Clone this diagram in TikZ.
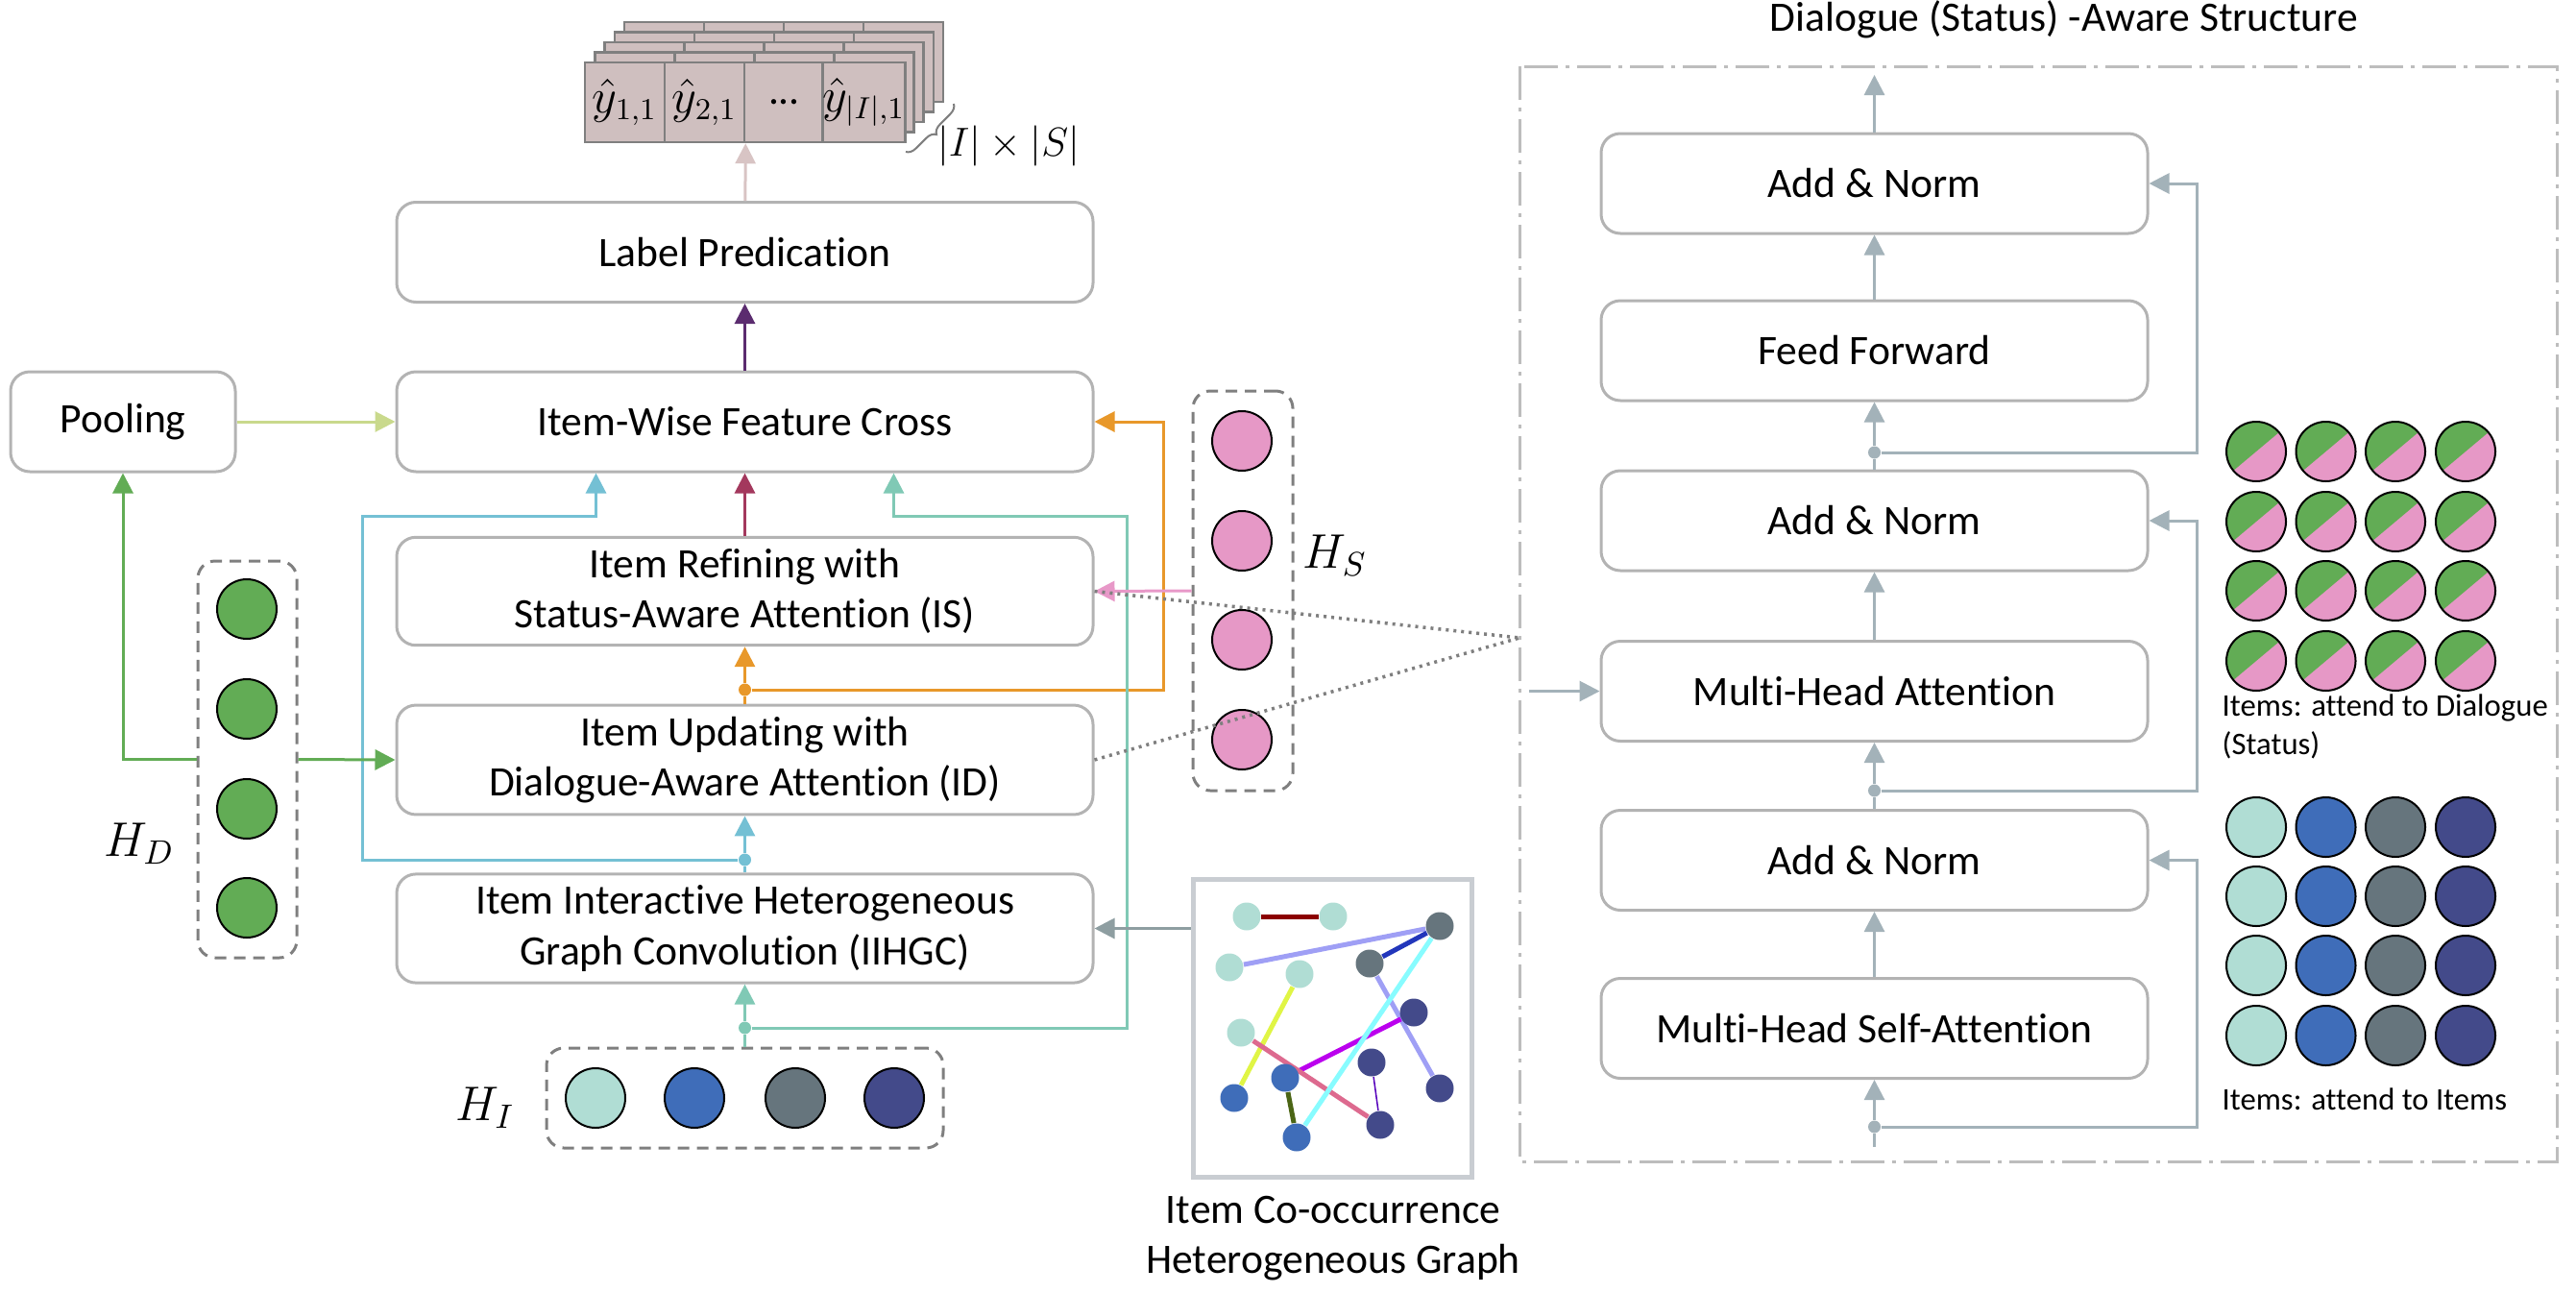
\documentclass[tikz,border=0pt]{standalone}
\usepackage{fontspec}
\setmainfont{Carlito}[Ligatures={NoCommon,NoContextual}]
\usepackage{tikz}
\usetikzlibrary{positioning}
\usetikzlibrary{calc}
\usetikzlibrary{arrows.meta}
\usetikzlibrary{backgrounds}
\usetikzlibrary{decorations.pathreplacing}
\definecolor{boxgray}{HTML}{B3B3B3}
\definecolor{dashgray}{HTML}{7F7F7F}
\definecolor{framegray}{HTML}{BDBDBD}
\definecolor{hdgreen}{HTML}{62AC55}
\definecolor{hspink}{HTML}{E698C6}
\definecolor{itA}{HTML}{B0DDD4}
\definecolor{itB}{HTML}{3F6DB9}
\definecolor{itC}{HTML}{66757D}
\definecolor{itD}{HTML}{434A8A}
\definecolor{stkfill}{HTML}{CFBFBF}
\definecolor{cpool}{HTML}{C9D98C}
\definecolor{cout}{HTML}{D8C4C4}
\definecolor{cpurple}{HTML}{5B2C6F}
\definecolor{cmag}{HTML}{A3385D}
\definecolor{cblue}{HTML}{74C0D4}
\definecolor{cteal}{HTML}{80C9B5}
\definecolor{corange}{HTML}{E8982A}
\definecolor{cpink}{HTML}{E898C8}
\definecolor{cgreen}{HTML}{62AC55}
\definecolor{cgray}{HTML}{8E9EA1}
\definecolor{cright}{HTML}{A3B2B9}
\definecolor{gframe}{HTML}{C9CDD2}
\definecolor{eRed}{HTML}{8B0000}
\definecolor{eLav}{HTML}{9F9FF5}
\definecolor{eLime}{HTML}{E0F545}
\definecolor{eBlue}{HTML}{2236BB}
\definecolor{eMag}{HTML}{BB00EE}
\definecolor{eRose}{HTML}{DD6A8F}
\definecolor{eViol}{HTML}{5500BB}
\definecolor{eOlive}{HTML}{4B6515}
\definecolor{eCyan}{HTML}{88FCFF}
\tikzset{
blk/.style={
  rectangle,rounded corners=0.2cm,
  draw=boxgray,line width=0.03cm,
  minimum width=7.25cm,minimum height=1.04cm,
  align=center
  },
rblk/.style={blk,minimum width=5.69cm},
vecbox/.style={
  rectangle,rounded corners=0.18cm,
  draw=dashgray,line width=0.03cm,
  dash pattern=on 0.12cm off 0.08cm
  },
c/.style={
  circle,inner sep=0pt,
  minimum size=0.62cm,
  draw=black,line width=0.02cm
  },
gn/.style={circle,inner sep=0pt,minimum size=0.29cm},
jdot/.style={circle,inner sep=0pt,minimum size=0.13cm},
cell/.style={
  rectangle,inner sep=0pt,
  minimum width=0.83cm,minimum height=0.83cm,
  draw=dashgray,fill=stkfill,line width=0.025cm
  },
conn/.style={line width=0.03cm},
gedge/.style={line width=0.05cm}
}

\begin{document}
\begin{tikzpicture}[>={Triangle[length=0.21cm,width=0.21cm]},font=\fontsize{12.4}{15}\selectfont]
    \useasboundingbox (0,0) rectangle (26.82,-13.45);
    % left column
    \node[blk] at (7.755,-2.625) (lp) {Label Predication};
    \node[blk] at (7.755,-4.39) (iwfc) {Item-Wise Feature Cross};
    \node[blk] at (7.755,-6.155) (is) {Item Refining with\\Status-Aware Attention (IS)};
    \node[blk] at (7.755,-7.91) (id) {Item Updating with\\Dialogue-Aware Attention (ID)};
    \node[blk] at (7.755,-9.665) (iihgc) {Item Interactive Heterogeneous\\Graph Convolution (IIHGC)};
    \node[blk,minimum width=2.34cm] at (1.28,-4.39) (pool) {Pooling};

    % output stack
    \foreach \k in {4,3,2,1}
      \foreach \i in {0,1,2,3}
        \draw[draw=dashgray,fill=stkfill,line width=0.025cm] (6.09+0.83*\i+0.103*\k,-1.48+0.105*\k) rectangle ++(0.83,0.83);
    \node[cell] at (6.505,-1.065) (y11) {\fontsize{13.5}{15}\selectfont$\hat{y}_{1,1}$};
    \node[cell] at (7.335,-1.065) (y21) {\fontsize{13.5}{15}\selectfont$\hat{y}_{2,1}$};
    \node[cell] at (8.165,-1.065) (ydd) {...};
    \node[cell] at (8.995,-1.065) (yI1) {\fontsize{13.5}{15}\selectfont$\hat{y}_{|I|,1}$};
    \draw[dashgray,line width=0.02cm,decorate,decoration={brace,mirror,amplitude=0.1cm}] (9.43,-1.58) -- (9.93,-1.08);
    \node at (10.50,-1.52) (dim) {$|I|\times|S|$};

    % hidden vectors
    \node[vecbox,minimum width=1.03cm,minimum height=4.13cm] at (2.575,-7.905) (hd) {};
    \node[c,fill=hdgreen] at (2.57,-6.34) (d1) {};
    \node[c,fill=hdgreen] at (2.57,-7.38) (d2) {};
    \node[c,fill=hdgreen] at (2.57,-8.42) (d3) {};
    \node[c,fill=hdgreen] at (2.57,-9.45) (d4) {};
    \node at (1.45,-8.78) (hdl) {\fontsize{14}{16}\selectfont$H_D$};
    \node[vecbox,minimum width=1.04cm,minimum height=4.16cm] at (12.94,-6.15) (hs) {};
    \node[c,fill=hspink] at (12.93,-4.59) (s1) {};
    \node[c,fill=hspink] at (12.93,-5.63) (s2) {};
    \node[c,fill=hspink] at (12.93,-6.66) (s3) {};
    \node[c,fill=hspink] at (12.93,-7.70) (s4) {};
    \node at (13.90,-5.78) (hsl) {\fontsize{14}{16}\selectfont$H_S$};
    \node[vecbox,minimum width=4.13cm,minimum height=1.04cm] at (7.755,-11.43) (hi) {};
    \node[c,fill=itA] at (6.20,-11.43) (i1) {};
    \node[c,fill=itB] at (7.23,-11.43) (i2) {};
    \node[c,fill=itC] at (8.28,-11.43) (i3) {};
    \node[c,fill=itD] at (9.31,-11.43) (i4) {};
    \node at (5.05,-11.53) (hil) {\fontsize{14}{16}\selectfont$H_I$};

    % co-occurrence graph
    \node[draw=gframe,line width=0.05cm,minimum width=2.9cm,minimum height=3.1cm] at (13.87,-10.70) (gbox) {};
    \node[gn,fill=itA] at (12.98,-9.54) (g1) {};
    \node[gn,fill=itA] at (13.88,-9.54) (g2) {};
    \node[gn,fill=itA] at (12.80,-10.07) (g3) {};
    \node[gn,fill=itC] at (14.99,-9.64) (g4) {};
    \node[gn,fill=itA] at (13.53,-10.14) (g5) {};
    \node[gn,fill=itB] at (12.85,-11.43) (g6) {};
    \node[gn,fill=itC] at (14.26,-10.03) (g7) {};
    \node[gn,fill=itD] at (14.72,-10.54) (g8) {};
    \node[gn,fill=itA] at (12.92,-10.75) (g9) {};
    \node[gn,fill=itB] at (13.38,-11.22) (g10) {};
    \node[gn,fill=itD] at (14.28,-11.06) (g11) {};
    \node[gn,fill=itD] at (14.99,-11.33) (g12) {};
    \node[gn,fill=itD] at (14.37,-11.71) (g13) {};
    \node[gn,fill=itB] at (13.50,-11.84) (g14) {};
    \begin{scope}[on background layer]
        \draw[gedge,eRed] (g1) -- (g2);
        \draw[gedge,eLav] (g3) -- (g4);
        \draw[gedge,eLime] (g5) -- (g6);
        \draw[gedge,eBlue] (g7) -- (g4);
        \draw[gedge,eLav] (g7) -- (g12);
        \draw[gedge,eMag] (g8) -- (g10);
        \draw[gedge,eRose] (g9) -- (g13);
        \draw[line width=0.015cm,eViol] (g11) -- (g13);
        \draw[gedge,eOlive] (g10) -- (g14);
        \draw[gedge,eCyan] (g4) -- (g14);
    \end{scope}
    \node[align=center] at (13.88,-12.89) (gcap) {Item Co-occurrence\\Heterogeneous Graph};

    % junctions
    \node[jdot,fill=corange] at (7.755,-7.18) (jo) {};
    \node[jdot,fill=cblue] at (7.755,-8.95) (jb) {};
    \node[jdot,fill=cteal] at (7.755,-10.70) (jt) {};

    % left connectors
    \draw[conn,->,cpool] (pool) -- (iwfc);
    \draw[conn,->,cpurple] (iwfc) -- (lp);
    \draw[conn,->,cout] (lp) -- (y21.south east);
    \draw[conn,->,cmag] (is) -- (iwfc);
    \draw[conn,corange] (id) -- (jo);
    \draw[conn,->,corange] (jo) -- (is);
    \draw[conn,->,corange] (jo) -| ([xshift=0.72cm]iwfc.east) -- (iwfc.east);
    \draw[conn,cblue] (iihgc) -- (jb);
    \draw[conn,->,cblue] (jb) -- (id);
    \draw[conn,->,cblue] (jb) -| (3.77,-5.37) -| ([xshift=-1.55cm]iwfc.south);
    \draw[conn,cteal] (hi) -- (jt);
    \draw[conn,->,cteal] (jt) -- (iihgc);
    \draw[conn,->,cteal] (jt) -| (11.73,-5.37) -| ([xshift=1.55cm]iwfc.south);
    \draw[conn,->,cgreen] (hd.west) -| (pool.south);
    \draw[conn,->,cgreen] (hd.east) -- (id.west);
    \draw[conn,->,cpink] (hs.west) -- (is.east);
    \draw[conn,->,cgray] (gbox.west |- iihgc.east) -- (iihgc.east);

    % dialogue (status) aware structure
    \node at (21.49,-0.20) (title) {Dialogue (Status) -Aware Structure};
    \draw[framegray,line width=0.03cm,dash pattern=on 0.35cm off 0.08cm on 0.04cm off 0.08cm] (15.82,-0.69) rectangle (26.62,-12.09);
    \coordinate (dl) at (15.82,-6.64);
    \draw[dashgray,line width=0.035cm,dash pattern=on 0.03cm off 0.05cm] (is.east) -- (dl);
    \draw[dashgray,line width=0.035cm,dash pattern=on 0.03cm off 0.05cm] (id.east) -- (dl);

    \node[rblk] at (19.515,-1.91) (an1) {Add \& Norm};
    \node[rblk] at (19.515,-3.65) (ff) {Feed Forward};
    \node[rblk] at (19.515,-5.42) (an2) {Add \& Norm};
    \node[rblk] at (19.515,-7.195) (mha) {Multi-Head Attention};
    \node[rblk] at (19.515,-8.955) (an3) {Add \& Norm};
    \node[rblk] at (19.515,-10.705) (mhsa) {Multi-Head Self-Attention};
    \node[jdot,fill=cright] at (19.515,-4.71) (j1) {};
    \node[jdot,fill=cright] at (19.515,-8.23) (j2) {};
    \node[jdot,fill=cright] at (19.515,-11.73) (j3) {};
    \coordinate (tout) at (19.515,-0.78);
    \coordinate (tin) at (19.515,-11.94);
    \coordinate (min) at (15.92,-7.195);

    \draw[conn,->,cright] (an1) -- (tout);
    \draw[conn,->,cright] (ff) -- (an1);
    \draw[conn,cright] (an2) -- (j1);
    \draw[conn,->,cright] (j1) -- (ff);
    \draw[conn,->,cright] (j1) -| ([xshift=0.5cm]an1.east) -- (an1.east);
    \draw[conn,->,cright] (mha) -- (an2);
    \draw[conn,cright] (an3) -- (j2);
    \draw[conn,->,cright] (j2) -- (mha);
    \draw[conn,->,cright] (j2) -| ([xshift=0.5cm]an2.east) -- (an2.east);
    \draw[conn,->,cright] (mhsa) -- (an3);
    \draw[conn,cright] (tin) -- (j3);
    \draw[conn,->,cright] (j3) -- (mhsa);
    \draw[conn,->,cright] (j3) -| ([xshift=0.5cm]an3.east) -- (an3.east);
    \draw[conn,->,cright] (min) -- (mha);

    % attention grids
    \foreach \x in {23.49,24.215,24.94,25.67}
      \foreach \y in {4.70,5.43,6.15,6.88}{
        \fill[hspink] (\x,-\y) circle (0.31);
        \fill[hdgreen] (\x,-\y) ++(40:0.31) arc (40:220:0.31) -- cycle;
        \draw[line width=0.02cm] (\x,-\y) circle (0.31);
      }
    \foreach \x/\col in {23.49/itA,24.215/itB,24.94/itC,25.67/itD}
      \foreach \y in {8.61,9.33,10.05,10.78}
        \draw[line width=0.02cm,fill=\col] (\x,-\y) circle (0.31);
    \node[anchor=west,align=left,inner sep=0pt,font=\fontsize{9.3}{11.4}\selectfont] at (23.13,-7.56) (capd) {Items: attend to Dialogue\\(Status)};
    \node[anchor=west,inner sep=0pt,font=\fontsize{9.3}{11.4}\selectfont] at (23.13,-11.44) (capi) {Items: attend to Items};
\end{tikzpicture}
\end{document}
